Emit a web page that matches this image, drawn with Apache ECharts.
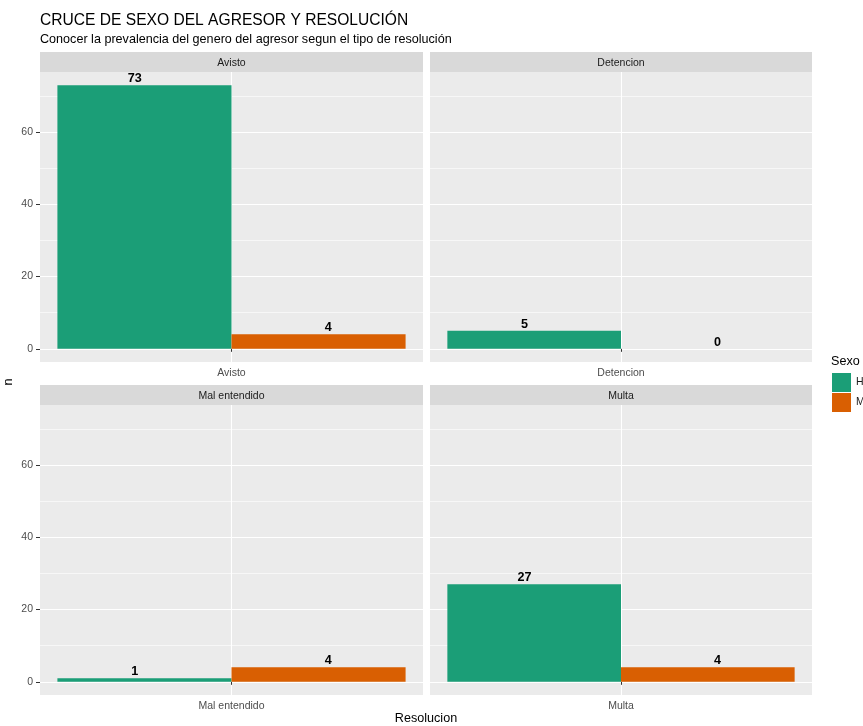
<!DOCTYPE html>
<html><head><meta charset="utf-8">
<script src="https://cdn.jsdelivr.net/npm/echarts@6/dist/echarts.min.js"></script>
<style>html,body{margin:0;padding:0;background:#fff}#c{width:863px;height:726px}</style>
</head><body><div id="c"></div>
<script>
const categories = ['Avisto', 'Detencion', 'Mal entendido', 'Multa'];
const hValues = [73, 5, 1, 27];
const mValues = [4, 0, 4, 4];
const sexLabels = ['H', 'M'];
const yTicks = [0, 20, 40, 60];
const yMinorTicks = [10, 30, 50, 70];

const colors = ['#1B9E77', '#D95F02'];
const FONT = 'Liberation Sans, Arial, sans-serif';
const dataMax = Math.max(...hValues, ...mValues);
const yMin = -dataMax * 0.05, yMax = dataMax * 1.05;

const panels = [
  {left: 40, top: 72, width: 383, height: 290},
  {left: 430, top: 72, width: 382, height: 290},
  {left: 40, top: 405, width: 383, height: 290},
  {left: 430, top: 405, width: 382, height: 290}
];
const STRIP = 20;

const grid = [], xAxis = [], yAxis = [], series = [], graphic = [];
categories.forEach((cat, i) => {
  const p = panels[i];
  const isLeft = (i % 2 === 0);
  // text dodge (width 1) vs bar dodge (width 0.9): offset of 0.025 x-units; panel spans 0.99 units
  const labelShift = 0.025 * p.width / 0.99;
  grid.push({left: p.left, top: p.top, width: p.width, height: p.height, show: true, backgroundColor: '#EBEBEB', borderWidth: 0});
  xAxis.push({type: 'category', gridIndex: i, data: [cat], boundaryGap: true,
    axisLine: {show: false},
    axisTick: {show: true, alignWithLabel: true, length: 3, lineStyle: {color: '#333333', width: 1}},
    axisLabel: {show: true, color: '#4D4D4D', fontSize: 10.5, fontFamily: FONT, margin: 6},
    splitLine: {show: false}});
  xAxis.push({type: 'value', gridIndex: i, min: 0, max: 2, show: true,
    axisLine: {show: false}, axisLabel: {show: false},
    axisTick: {show: false, customValues: [1]},
    splitLine: {show: true, lineStyle: {color: '#FFFFFF', width: 1.1}}});
  yAxis.push({type: 'value', gridIndex: i, min: yMin, max: yMax,
    axisLine: {show: false},
    axisTick: {show: isLeft, length: 4, customValues: yTicks, lineStyle: {color: '#333333', width: 1}},
    axisLabel: {show: isLeft, customValues: yTicks, color: '#4D4D4D', fontSize: 10.5, fontFamily: FONT, margin: 7},
    splitLine: {show: true, lineStyle: {color: '#FFFFFF', width: 1.1}}});
  yAxis.push({type: 'value', gridIndex: i, min: yMin, max: yMax, position: 'right',
    axisLine: {show: false}, axisLabel: {show: false},
    axisTick: {show: false, customValues: yMinorTicks},
    splitLine: {show: true, lineStyle: {color: '#FFFFFF', width: 0.6}}});
  [hValues, mValues].forEach((vals, k) => {
    series.push({type: 'bar', name: sexLabels[k], xAxisIndex: 2 * i, yAxisIndex: 2 * i,
      data: [vals[i]], barGap: '0%', barCategoryGap: '9.09%',
      itemStyle: {color: colors[k]},
      label: {show: true, position: 'top', distance: 0, offset: [k === 0 ? -labelShift : labelShift, 0],
        color: '#000', fontWeight: 'bold', fontSize: 12.6, fontFamily: FONT},
      emphasis: {disabled: true}, animation: false});
  });
  graphic.push({type: 'rect', shape: {x: p.left, y: p.top - STRIP, width: p.width, height: STRIP}, style: {fill: '#D9D9D9'}});
  graphic.push({type: 'text', x: p.left + p.width / 2, y: p.top - STRIP / 2 + 1,
    style: {text: cat, fill: '#1A1A1A', font: '10.5px ' + FONT, textAlign: 'center', textVerticalAlign: 'middle'}});
});

graphic.push({type: 'text', x: 40, y: 20.5, style: {text: 'CRUCE DE SEXO DEL AGRESOR Y RESOLUCIÓN', fill: '#000', font: '15.6px ' + FONT, textVerticalAlign: 'middle'}});
graphic.push({type: 'text', x: 40, y: 40, style: {text: 'Conocer la prevalencia del genero del agresor segun el tipo de resolución', fill: '#000', font: '12.6px ' + FONT, textVerticalAlign: 'middle'}});
graphic.push({type: 'text', x: 426, y: 719, style: {text: 'Resolucion', fill: '#000', font: '12.6px ' + FONT, textAlign: 'center', textVerticalAlign: 'middle'}});
graphic.push({type: 'text', x: 9, y: 382, rotation: Math.PI / 2, style: {text: 'n', fill: '#000', font: '12.6px ' + FONT, textAlign: 'center', textVerticalAlign: 'middle'}});
graphic.push({type: 'text', x: 831, y: 362, style: {text: 'Sexo', fill: '#000', font: '12.6px ' + FONT, textVerticalAlign: 'middle'}});

const chart = echarts.init(document.getElementById('c'), null, {renderer: 'canvas'});
chart.setOption({
  animation: false,
  grid, xAxis, yAxis, series, graphic,
  legend: {data: sexLabels, orient: 'vertical', left: 832, top: 373, itemWidth: 19, itemHeight: 19, itemGap: 1,
    icon: 'rect', padding: 0, textStyle: {fontSize: 10.5, color: '#1A1A1A', fontFamily: FONT}, selectedMode: false}
});
</script></body></html>
